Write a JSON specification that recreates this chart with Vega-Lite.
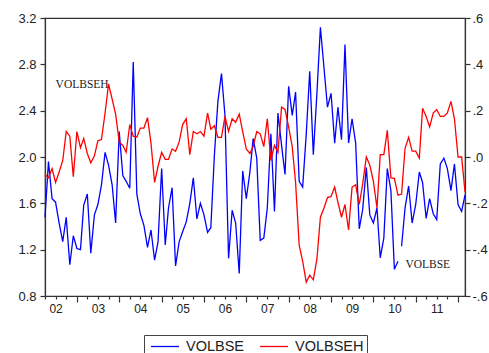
{
  "$schema": "https://vega.github.io/schema/vega-lite/v6.json",
  "width": 420,
  "height": 278,
  "autosize": {"type": "none"},
  "padding": {"left": 45, "top": 18, "right": 24, "bottom": 57},
  "background": "white",
  "config": {
    "view": {"stroke": "#333333", "strokeWidth": 1.2},
    "axis": {"domainColor": "#333333", "domainWidth": 1.2, "tickColor": "#333333", "labelColor": "#222222", "labelFont": "Liberation Sans", "grid": false, "title": null}
  },
  "data": {"values": [
    {"date": "2002-04-01", "VOLBSE": 1.48, "VOLBSEH": -0.075, "seg": "a"},
    {"date": "2002-05-01", "VOLBSE": 1.96, "VOLBSEH": -0.09, "seg": "a"},
    {"date": "2002-06-01", "VOLBSE": 1.64, "VOLBSEH": -0.05, "seg": "a"},
    {"date": "2002-07-01", "VOLBSE": 1.61, "VOLBSEH": -0.11, "seg": "a"},
    {"date": "2002-08-01", "VOLBSE": 1.43, "VOLBSEH": -0.065, "seg": "a"},
    {"date": "2002-09-01", "VOLBSE": 1.27, "VOLBSEH": -0.015, "seg": "a"},
    {"date": "2002-10-01", "VOLBSE": 1.48, "VOLBSEH": 0.11, "seg": "a"},
    {"date": "2002-11-01", "VOLBSE": 1.07, "VOLBSEH": 0.09, "seg": "a"},
    {"date": "2002-12-01", "VOLBSE": 1.32, "VOLBSEH": -0.085, "seg": "a"},
    {"date": "2003-01-01", "VOLBSE": 1.21, "VOLBSEH": 0.11, "seg": "a"},
    {"date": "2003-02-01", "VOLBSE": 1.20, "VOLBSEH": 0.04, "seg": "a"},
    {"date": "2003-03-01", "VOLBSE": 1.585, "VOLBSEH": 0.08, "seg": "a"},
    {"date": "2003-04-01", "VOLBSE": 1.68, "VOLBSEH": 0.015, "seg": "a"},
    {"date": "2003-05-01", "VOLBSE": 1.17, "VOLBSEH": -0.025, "seg": "a"},
    {"date": "2003-06-01", "VOLBSE": 1.50, "VOLBSEH": 0.005, "seg": "a"},
    {"date": "2003-07-01", "VOLBSE": 1.59, "VOLBSEH": 0.07, "seg": "a"},
    {"date": "2003-08-01", "VOLBSE": 1.76, "VOLBSEH": 0.075, "seg": "a"},
    {"date": "2003-09-01", "VOLBSE": 2.04, "VOLBSEH": 0.19, "seg": "a"},
    {"date": "2003-10-01", "VOLBSE": 1.93, "VOLBSEH": 0.315, "seg": "a"},
    {"date": "2003-11-01", "VOLBSE": 1.76, "VOLBSEH": 0.25, "seg": "a"},
    {"date": "2003-12-01", "VOLBSE": 1.43, "VOLBSEH": 0.185, "seg": "a"},
    {"date": "2004-01-01", "VOLBSE": 2.22, "VOLBSEH": 0.065, "seg": "a"},
    {"date": "2004-02-01", "VOLBSE": 1.84, "VOLBSEH": 0.05, "seg": "a"},
    {"date": "2004-03-01", "VOLBSE": 1.79, "VOLBSEH": 0.02, "seg": "a"},
    {"date": "2004-04-01", "VOLBSE": 1.73, "VOLBSEH": 0.14, "seg": "a"},
    {"date": "2004-05-01", "VOLBSE": 2.82, "VOLBSEH": 0.09, "seg": "a"},
    {"date": "2004-06-01", "VOLBSE": 1.68, "VOLBSEH": 0.085, "seg": "a"},
    {"date": "2004-07-01", "VOLBSE": 1.51, "VOLBSEH": 0.125, "seg": "a"},
    {"date": "2004-08-01", "VOLBSE": 1.41, "VOLBSEH": 0.125, "seg": "a"},
    {"date": "2004-09-01", "VOLBSE": 1.22, "VOLBSEH": 0.17, "seg": "a"},
    {"date": "2004-10-01", "VOLBSE": 1.37, "VOLBSEH": 0.06, "seg": "a"},
    {"date": "2004-11-01", "VOLBSE": 1.11, "VOLBSEH": -0.11, "seg": "a"},
    {"date": "2004-12-01", "VOLBSE": 1.27, "VOLBSEH": -0.04, "seg": "a"},
    {"date": "2005-01-01", "VOLBSE": 1.90, "VOLBSEH": 0.02, "seg": "a"},
    {"date": "2005-02-01", "VOLBSE": 1.24, "VOLBSEH": -0.01, "seg": "a"},
    {"date": "2005-03-01", "VOLBSE": 1.56, "VOLBSEH": -0.01, "seg": "a"},
    {"date": "2005-04-01", "VOLBSE": 1.735, "VOLBSEH": 0.035, "seg": "a"},
    {"date": "2005-05-01", "VOLBSE": 1.06, "VOLBSEH": 0.025, "seg": "a"},
    {"date": "2005-06-01", "VOLBSE": 1.27, "VOLBSEH": 0.065, "seg": "a"},
    {"date": "2005-07-01", "VOLBSE": 1.355, "VOLBSEH": 0.14, "seg": "a"},
    {"date": "2005-08-01", "VOLBSE": 1.44, "VOLBSEH": 0.165, "seg": "a"},
    {"date": "2005-09-01", "VOLBSE": 1.60, "VOLBSEH": 0.01, "seg": "a"},
    {"date": "2005-10-01", "VOLBSE": 1.82, "VOLBSEH": 0.11, "seg": "a"},
    {"date": "2005-11-01", "VOLBSE": 1.465, "VOLBSEH": 0.10, "seg": "a"},
    {"date": "2005-12-01", "VOLBSE": 1.60, "VOLBSEH": 0.11, "seg": "a"},
    {"date": "2006-01-01", "VOLBSE": 1.50, "VOLBSEH": 0.09, "seg": "a"},
    {"date": "2006-02-01", "VOLBSE": 1.35, "VOLBSEH": 0.19, "seg": "a"},
    {"date": "2006-03-01", "VOLBSE": 1.39, "VOLBSEH": 0.12, "seg": "a"},
    {"date": "2006-04-01", "VOLBSE": 2.02, "VOLBSEH": 0.135, "seg": "a"},
    {"date": "2006-05-01", "VOLBSE": 2.48, "VOLBSEH": 0.085, "seg": "a"},
    {"date": "2006-06-01", "VOLBSE": 2.72, "VOLBSEH": 0.085, "seg": "a"},
    {"date": "2006-07-01", "VOLBSE": 2.36, "VOLBSEH": 0.175, "seg": "a"},
    {"date": "2006-08-01", "VOLBSE": 1.125, "VOLBSEH": 0.11, "seg": "a"},
    {"date": "2006-09-01", "VOLBSE": 1.54, "VOLBSEH": 0.165, "seg": "a"},
    {"date": "2006-10-01", "VOLBSE": 1.43, "VOLBSEH": 0.15, "seg": "a"},
    {"date": "2006-11-01", "VOLBSE": 0.995, "VOLBSEH": 0.185, "seg": "a"},
    {"date": "2006-12-01", "VOLBSE": 1.88, "VOLBSEH": 0.11, "seg": "a"},
    {"date": "2007-01-01", "VOLBSE": 1.64, "VOLBSEH": 0.035, "seg": "a"},
    {"date": "2007-02-01", "VOLBSE": 1.87, "VOLBSEH": 0.015, "seg": "a"},
    {"date": "2007-03-01", "VOLBSE": 2.16, "VOLBSEH": 0.045, "seg": "a"},
    {"date": "2007-04-01", "VOLBSE": 1.99, "VOLBSEH": 0.11, "seg": "a"},
    {"date": "2007-05-01", "VOLBSE": 1.28, "VOLBSEH": 0.10, "seg": "a"},
    {"date": "2007-06-01", "VOLBSE": 1.30, "VOLBSEH": 0.045, "seg": "a"},
    {"date": "2007-07-01", "VOLBSE": 1.56, "VOLBSEH": 0.165, "seg": "a"},
    {"date": "2007-08-01", "VOLBSE": 2.20, "VOLBSEH": -0.015, "seg": "a"},
    {"date": "2007-09-01", "VOLBSE": 1.53, "VOLBSEH": 0.05, "seg": "a"},
    {"date": "2007-10-01", "VOLBSE": 2.38, "VOLBSEH": 0.02, "seg": "a"},
    {"date": "2007-11-01", "VOLBSE": 2.10, "VOLBSEH": 0.215, "seg": "a"},
    {"date": "2007-12-01", "VOLBSE": 1.85, "VOLBSEH": 0.205, "seg": "a"},
    {"date": "2008-01-01", "VOLBSE": 2.61, "VOLBSEH": 0.13, "seg": "a"},
    {"date": "2008-02-01", "VOLBSE": 2.36, "VOLBSEH": 0.045, "seg": "a"},
    {"date": "2008-03-01", "VOLBSE": 2.56, "VOLBSEH": -0.11, "seg": "a"},
    {"date": "2008-04-01", "VOLBSE": 1.79, "VOLBSEH": -0.38, "seg": "a"},
    {"date": "2008-05-01", "VOLBSE": 1.74, "VOLBSEH": -0.45, "seg": "a"},
    {"date": "2008-06-01", "VOLBSE": 2.20, "VOLBSEH": -0.54, "seg": "a"},
    {"date": "2008-07-01", "VOLBSE": 2.74, "VOLBSEH": -0.51, "seg": "a"},
    {"date": "2008-08-01", "VOLBSE": 2.02, "VOLBSEH": -0.53, "seg": "a"},
    {"date": "2008-09-01", "VOLBSE": 2.55, "VOLBSEH": -0.44, "seg": "a"},
    {"date": "2008-10-01", "VOLBSE": 3.12, "VOLBSEH": -0.26, "seg": "a"},
    {"date": "2008-11-01", "VOLBSE": 2.77, "VOLBSEH": -0.22, "seg": "a"},
    {"date": "2008-12-01", "VOLBSE": 2.43, "VOLBSEH": -0.175, "seg": "a"},
    {"date": "2009-01-01", "VOLBSE": 2.55, "VOLBSEH": -0.17, "seg": "a"},
    {"date": "2009-02-01", "VOLBSE": 2.12, "VOLBSEH": -0.13, "seg": "a"},
    {"date": "2009-03-01", "VOLBSE": 2.43, "VOLBSEH": -0.195, "seg": "a"},
    {"date": "2009-04-01", "VOLBSE": 2.15, "VOLBSEH": -0.26, "seg": "a"},
    {"date": "2009-05-01", "VOLBSE": 2.97, "VOLBSEH": -0.205, "seg": "a"},
    {"date": "2009-06-01", "VOLBSE": 2.12, "VOLBSEH": -0.315, "seg": "a"},
    {"date": "2009-07-01", "VOLBSE": 2.33, "VOLBSEH": -0.13, "seg": "a"},
    {"date": "2009-08-01", "VOLBSE": 2.12, "VOLBSEH": -0.12, "seg": "a"},
    {"date": "2009-09-01", "VOLBSE": 1.38, "VOLBSEH": -0.205, "seg": "a"},
    {"date": "2009-10-01", "VOLBSE": 1.55, "VOLBSEH": -0.115, "seg": "a"},
    {"date": "2009-11-01", "VOLBSE": 1.91, "VOLBSEH": 0.0, "seg": "a"},
    {"date": "2009-12-01", "VOLBSE": 1.50, "VOLBSEH": -0.035, "seg": "a"},
    {"date": "2010-01-01", "VOLBSE": 1.43, "VOLBSEH": -0.105, "seg": "a"},
    {"date": "2010-02-01", "VOLBSE": 1.56, "VOLBSEH": -0.22, "seg": "a"},
    {"date": "2010-03-01", "VOLBSE": 1.13, "VOLBSEH": 0.01, "seg": "a"},
    {"date": "2010-04-01", "VOLBSE": 1.30, "VOLBSEH": 0.01, "seg": "a"},
    {"date": "2010-05-01", "VOLBSE": 1.90, "VOLBSEH": 0.115, "seg": "a"},
    {"date": "2010-06-01", "VOLBSE": 1.71, "VOLBSEH": -0.09, "seg": "a"},
    {"date": "2010-07-01", "VOLBSE": 1.03, "VOLBSEH": -0.0925, "seg": "a"},
    {"date": "2010-08-01", "VOLBSE": 1.10, "VOLBSEH": -0.165, "seg": "a"},
    {"date": "2010-09-01", "VOLBSE": 1.23, "VOLBSEH": -0.16, "seg": "b"},
    {"date": "2010-10-01", "VOLBSE": 1.56, "VOLBSEH": 0.0375, "seg": "b"},
    {"date": "2010-11-01", "VOLBSE": 1.75, "VOLBSEH": 0.085, "seg": "b"},
    {"date": "2010-12-01", "VOLBSE": 1.43, "VOLBSEH": 0.025, "seg": "b"},
    {"date": "2011-01-01", "VOLBSE": 1.59, "VOLBSEH": 0.025, "seg": "b"},
    {"date": "2011-02-01", "VOLBSE": 1.87, "VOLBSEH": -0.005, "seg": "b"},
    {"date": "2011-03-01", "VOLBSE": 1.78, "VOLBSEH": 0.21, "seg": "b"},
    {"date": "2011-04-01", "VOLBSE": 1.47, "VOLBSEH": 0.175, "seg": "b"},
    {"date": "2011-05-01", "VOLBSE": 1.64, "VOLBSEH": 0.13, "seg": "b"},
    {"date": "2011-06-01", "VOLBSE": 1.51, "VOLBSEH": 0.19, "seg": "b"},
    {"date": "2011-07-01", "VOLBSE": 1.46, "VOLBSEH": 0.205, "seg": "b"},
    {"date": "2011-08-01", "VOLBSE": 1.94, "VOLBSEH": 0.175, "seg": "b"},
    {"date": "2011-09-01", "VOLBSE": 1.99, "VOLBSEH": 0.175, "seg": "b"},
    {"date": "2011-10-01", "VOLBSE": 1.90, "VOLBSEH": 0.19, "seg": "b"},
    {"date": "2011-11-01", "VOLBSE": 1.71, "VOLBSEH": 0.24, "seg": "b"},
    {"date": "2011-12-01", "VOLBSE": 1.94, "VOLBSEH": 0.165, "seg": "b"},
    {"date": "2012-01-01", "VOLBSE": 1.59, "VOLBSEH": 0.0, "seg": "b"},
    {"date": "2012-02-01", "VOLBSE": 1.53, "VOLBSEH": 0.0, "seg": "b"},
    {"date": "2012-03-01", "VOLBSE": 1.67, "VOLBSEH": -0.15, "seg": "b"}
  ]},
  "encoding": {
    "x": {
      "field": "date",
      "type": "temporal",
      "scale": {
        "type": "utc",
        "nice": false,
        "domain": [
          {"year": 2002, "month": 4, "date": 1, "utc": true},
          {"year": 2012, "month": 3, "date": 1, "utc": true}
        ]
      },
      "axis": {
        "tickCount": {"interval": "month", "step": 3},
        "tickSize": {"condition": {"test": "utcmonth(datum.value) === 0", "value": 6}, "value": 3},
        "tickWidth": 1.2,
        "labelExpr": "utcmonth(datum.value) === 6 ? utcFormat(datum.value, '%y') : ''",
        "labelOverlap": false,
        "labelFlush": false,
        "labelFontSize": 12,
        "labelPadding": 4
      }
    }
  },
  "layer": [
    {
      "mark": {"type": "line", "strokeWidth": 1.3},
      "encoding": {
        "y": {
          "field": "VOLBSE",
          "type": "quantitative",
          "scale": {"domain": [0.8, 3.2], "nice": false, "zero": false},
          "axis": {
            "orient": "left",
            "values": [0.8, 1.2, 1.6, 2.0, 2.4, 2.8, 3.2],
            "format": ".1f",
            "tickSize": 5,
            "tickWidth": 1.2,
            "labelPadding": 4,
            "labelFontSize": 13,
            "labelFlush": false,
            "labelOverlap": false
          }
        },
        "detail": {"field": "seg", "type": "nominal"},
        "color": {
          "datum": "VOLBSE",
          "type": "nominal",
          "scale": {"domain": ["VOLBSE", "VOLBSEH"], "range": ["#0000ff", "#ff0000"]},
          "legend": {
            "orient": "none",
            "legendX": 99,
            "legendY": 317,
            "direction": "horizontal",
            "title": null,
            "symbolType": "M-0.6,0H3.133",
            "symbolSize": 225,
            "symbolStrokeWidth": 1.3,
            "labelFont": "Liberation Sans",
            "labelFontSize": 14.5,
            "labelColor": "#222222",
            "labelOffset": 22,
            "columnPadding": 11,
            "padding": 3,
            "strokeColor": "#444444",
            "fillColor": "white"
          }
        }
      }
    },
    {
      "mark": {"type": "line", "strokeWidth": 1.3},
      "encoding": {
        "y": {
          "field": "VOLBSEH",
          "type": "quantitative",
          "scale": {"domain": [-0.6, 0.6], "nice": false, "zero": false},
          "axis": {
            "orient": "right",
            "values": [-0.6, -0.4, -0.2, 0, 0.2, 0.4, 0.6],
            "labelExpr": "datum.value < 0 ? '-' + replace(format(-datum.value, '.1f'), '0.', '.') : replace(format(datum.value, '.1f'), '0.', '.')",
            "tickSize": 5,
            "tickWidth": 1.2,
            "labelPadding": 2,
            "labelFontSize": 13,
            "labelFlush": false,
            "labelOverlap": false
          }
        },
        "color": {
          "datum": "VOLBSEH",
          "type": "nominal",
          "scale": {"domain": ["VOLBSE", "VOLBSEH"], "range": ["#0000ff", "#ff0000"]}
        }
      }
    },
    {
      "data": {"values": [
        {"date": "2003-02-15", "y": 2.595, "label": "VOLBSEH"},
        {"date": "2011-04-15", "y": 1.041, "label": "VOLBSE"}
      ]},
      "mark": {"type": "text", "font": "Liberation Serif", "fontSize": 11.5, "color": "#222222", "align": "center", "baseline": "alphabetic"},
      "encoding": {
        "y": {"field": "y", "type": "quantitative", "scale": {"domain": [0.8, 3.2], "nice": false, "zero": false}, "axis": null},
        "text": {"field": "label", "type": "nominal"}
      }
    }
  ],
  "resolve": {"scale": {"y": "independent"}}
}
